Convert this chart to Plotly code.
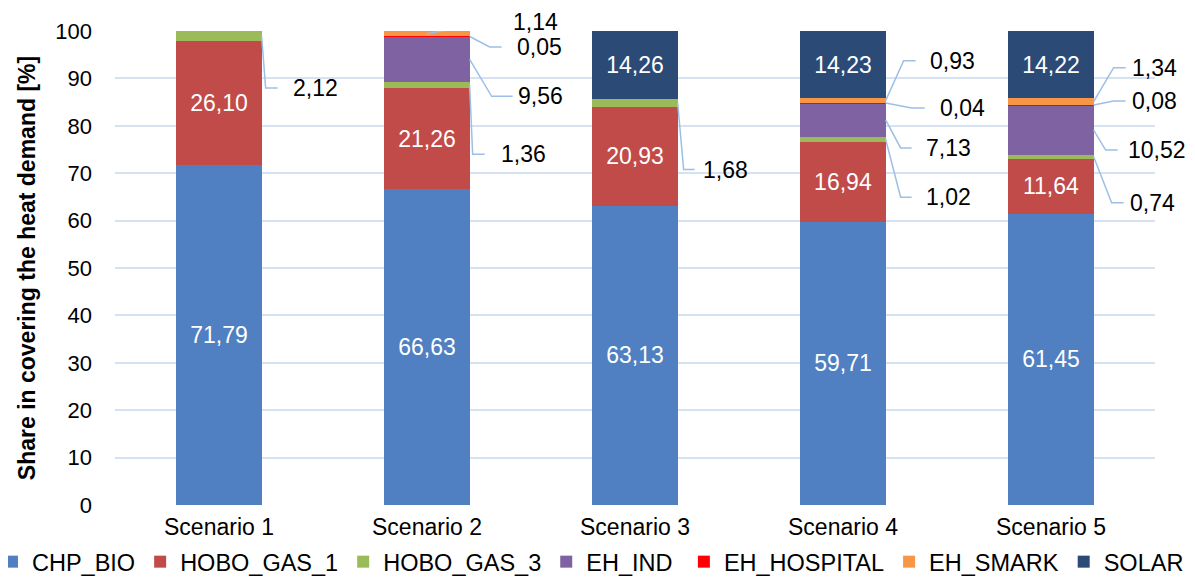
import plotly.graph_objects as go

scenarios = ["Scenario 1", "Scenario 2", "Scenario 3", "Scenario 4", "Scenario 5"]
chp_bio = [71.79, 66.63, 63.13, 59.71, 61.45]
hobo_gas_1 = [26.10, 21.26, 20.93, 16.94, 11.64]
hobo_gas_3 = [2.12, 1.36, 1.68, 1.02, 0.74]
eh_ind = [0.0, 9.56, 0.0, 7.13, 10.52]
eh_hospital = [0.0, 0.05, 0.0, 0.04, 0.08]
eh_smark = [0.0, 1.14, 0.0, 0.93, 1.34]
solar = [0.0, 0.0, 14.26, 14.23, 14.22]
y_ticks = [0, 10, 20, 30, 40, 50, 60, 70, 80, 90, 100]

series = [
    ("CHP_BIO", chp_bio, "#5080C1", True, "legend"),
    ("HOBO_GAS_1", hobo_gas_1, "#C04B48", True, "legend"),
    ("HOBO_GAS_3", hobo_gas_3, "#9BBB59", False, "legend"),
    ("EH_IND", eh_ind, "#7F62A1", False, "legend"),
    ("EH_HOSPITAL", eh_hospital, "#FF0000", False, "legend2"),
    ("EH_SMARK", eh_smark, "#F79646", False, "legend2"),
    ("SOLAR", solar, "#2B4A76", True, "legend2"),
]

FONT = "Liberation Sans, Arial, sans-serif"
FS = 23


def fmt(v):
    return f"{v:.2f}".replace(".", ",")


fig = go.Figure()
for name, vals, color, inside, lg in series:
    fig.add_trace(go.Bar(
        name=name, x=scenarios, y=vals, legend=lg,
        marker=dict(color=color, line=dict(width=0)),
        text=[fmt(v) if (inside and v > 0) else "" for v in vals],
        textposition="inside", insidetextanchor="middle",
        insidetextfont=dict(color="white", size=FS, family=FONT),
        textangle=0,
        hoverinfo="skip",
    ))

# external labels with leader lines (layout offsets in pixels)
# (scenario index, series name, anchor, elbow dx, elbow dy (down), tail dx, text dx)
leaders = [
    (0, "HOBO_GAS_3", "edge", 4, 52, 16, 29),
    (1, "EH_SMARK", "center", 63, -12, 71, 84),
    (1, "EH_HOSPITAL", "edge", 20, 10.5, 32, 45),
    (1, "EH_IND", "edge", 22, 37, 43, 46),
    (1, "HOBO_GAS_3", "edge", 3, 69, 15, 29),
    (2, "HOBO_GAS_3", "edge", 6, 67, 17, 23),
    (3, "EH_SMARK", "edge", 18, -40, 30, 42),
    (3, "EH_HOSPITAL", "edge", 26, 5, 39, 52),
    (3, "EH_IND", "edge", 15, 28, 26, 38),
    (3, "HOBO_GAS_3", "edge", 15, 58, 26, 38),
    (4, "EH_SMARK", "edge", 20, -34, 32, 36),
    (4, "EH_HOSPITAL", "edge", 20, -4, 32, 36),
    (4, "EH_IND", "edge", 12, 20, 24, 32),
    (4, "HOBO_GAS_3", "edge", 18, 46, 30, 34),
]

BARGAP = 0.59
half = (1 - BARGAP) / 2
names = [s[0] for s in series]
vals_by_name = {s[0]: s[1] for s in series}
LINE_COLOR = "#9DBFE6"

for i, nm, anchor, ex, ey, tx, txt_dx in leaders:
    k = names.index(nm)
    base = sum(vals_by_name[names[j]][i] for j in range(k))
    v = vals_by_name[nm][i]
    mid = base + v / 2
    xa = i + (half if anchor == "edge" else 0)
    fig.add_shape(type="path", xref="x", yref="y",
                  xsizemode="pixel", ysizemode="pixel",
                  xanchor=xa, yanchor=mid,
                  path=f"M0,0 L{ex},{-ey} L{tx},{-ey}",
                  line=dict(color=LINE_COLOR, width=1.5))
    fig.add_annotation(x=xa, y=mid, xref="x", yref="y",
                       text=fmt(v), showarrow=False,
                       xanchor="left", yanchor="middle",
                       xshift=txt_dx, yshift=-ey,
                       font=dict(size=FS, color="black", family=FONT))

legend_common = dict(orientation="h", yref="paper", y=-0.12, yanchor="middle",
                     font=dict(size=23.5, family=FONT), traceorder="normal",
                     itemwidth=30, bgcolor="rgba(0,0,0,0)", xref="paper",
                     xanchor="left")

# the page adds an 8px body margin, so the figure is drawn 8px smaller
fig.update_layout(
    barmode="stack",
    bargap=BARGAP,
    width=1187, height=570,
    margin=dict(l=107, r=40, t=23, b=73, pad=0, autoexpand=False),
    paper_bgcolor="white", plot_bgcolor="white",
    font=dict(family=FONT, size=FS, color="black"),
    showlegend=True,
    legend=dict(**legend_common, x=-0.1183),
    legend2=dict(**legend_common, x=0.547),
)
fig.update_xaxes(range=[-0.5, len(scenarios) - 0.5], autorange=False,
                 showgrid=False, showline=False, ticks="", zeroline=False,
                 tickfont=dict(size=FS, family=FONT, color="black"),
                 ticklabelstandoff=6)
fig.update_yaxes(range=[0, 100], autorange=False, tickvals=y_ticks, showgrid=True,
                 gridcolor="#D6E1F1", gridwidth=2, zeroline=False,
                 showline=False, ticks="",
                 tickfont=dict(size=FS - 1, family=FONT, color="black"),
                 ticklabelstandoff=22,
                 title=dict(text="<b>Share in covering the heat demand [%]</b>",
                            font=dict(size=FS, family=FONT, color="black"),
                            standoff=13))

fig.write_html("out.html")
